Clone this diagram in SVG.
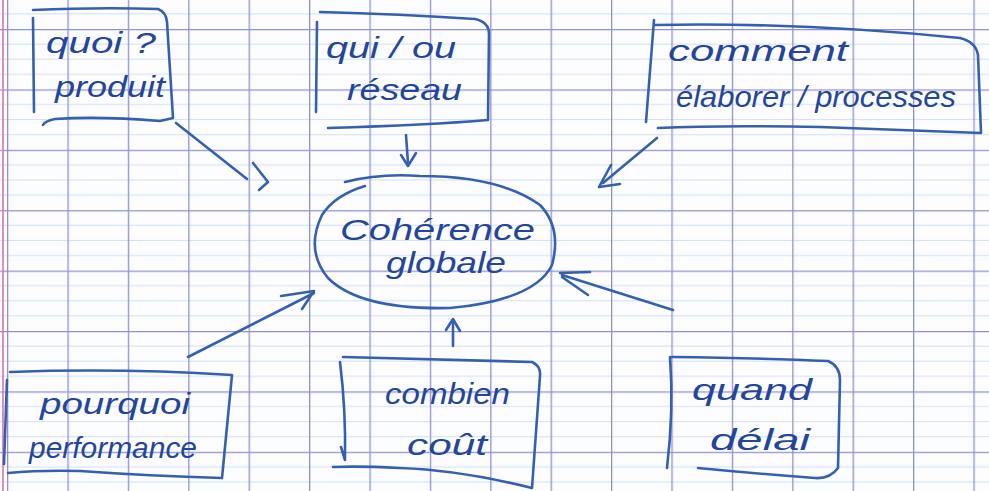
<svg xmlns="http://www.w3.org/2000/svg" width="989" height="491" viewBox="0 0 989 491">
<defs>
<pattern id="grid" patternUnits="userSpaceOnUse" x="7" y="29" width="60.4" height="60.4">
<rect width="60.4" height="60.4" fill="#fdfdff"/>
<line x1="0" y1="15.1" x2="60.4" y2="15.1" stroke="#cfe0f2" stroke-width="1.2"/>
<line x1="0" y1="30.2" x2="60.4" y2="30.2" stroke="#cfe0f2" stroke-width="1.2"/>
<line x1="0" y1="45.3" x2="60.4" y2="45.3" stroke="#cfe0f2" stroke-width="1.2"/>
<line x1="0" y1="0.5" x2="60.4" y2="0.5" stroke="#8e92d0" stroke-width="1.6"/>
<line x1="0.5" y1="0" x2="0.5" y2="60.4" stroke="#8e92d0" stroke-width="1.6"/>
</pattern>
<style>
.ink{fill:none;stroke:#3560b0;stroke-width:2.6;stroke-linecap:round;stroke-linejoin:round}
.hw{font-family:"Liberation Sans","DejaVu Sans",sans-serif;font-style:italic;fill:#23469a;font-size:30px}
</style>
</defs>
<rect width="989" height="491" fill="url(#grid)"/>
<line x1="3" y1="0" x2="3" y2="491" stroke="#e070a8" stroke-width="1.6"/>

<g id="connectors">
<path class="ink" d="M176,123 L247,179"/>
<path class="ink" d="M253,163 L268,182 L259,190"/>
<path class="ink" d="M406,135 L408,163"/>
<path class="ink" d="M401,155 L408,166 L416,153"/>
<path class="ink" d="M657,138 L603,183"/>
<path class="ink" d="M611,165 L599,187 L620,184"/>
<path class="ink" d="M188,357 L314,293"/>
<path class="ink" d="M281,296 L314,291 L302,309"/>
<path class="ink" d="M453,346 L453,320"/>
<path class="ink" d="M446,330 L453,319 L460,331"/>
<path class="ink" d="M673,310 L562,275"/>
<path class="ink" d="M560,273 L590,272 M562,277 L588,295"/>
</g>

<g id="node-quoi">
<path class="ink" d="M33,10 Q100,7 158,9 Q166,12 167,22 L173,118 L160,121 Q100,116 55,119 Q45,121 43,125"/>
<path class="ink" d="M33,18 L34,112"/>
<text class="hw" x="46" y="53" textLength="110" lengthAdjust="spacingAndGlyphs">quoi ?</text>
<text class="hw" x="55" y="97" textLength="110" lengthAdjust="spacingAndGlyphs">produit</text>
</g>

<g id="node-qui">
<path class="ink" d="M320,12 Q400,14 475,19 Q489,22 489,34 L488,120 Q430,125 328,128"/>
<path class="ink" d="M317,22 L316,112"/>
<text class="hw" x="326" y="58" textLength="130" lengthAdjust="spacingAndGlyphs">qui / ou</text>
<text class="hw" x="347" y="100" textLength="115" lengthAdjust="spacingAndGlyphs">réseau</text>
</g>

<g id="node-comment">
<path class="ink" d="M655,25 Q800,22 960,38 Q976,42 978,55 L981,133 Q900,130 820,127 Q720,125 658,128"/>
<path class="ink" d="M654,20 L646,122"/>
<text class="hw" x="668" y="61" textLength="180" lengthAdjust="spacingAndGlyphs">comment</text>
<text class="hw" x="676" y="107" textLength="280" lengthAdjust="spacingAndGlyphs">élaborer / processes</text>
</g>

<g id="node-coherence">
<path class="ink" d="M345,182 Q380,173 420,176 Q500,176 540,205 Q562,228 552,265 Q535,300 450,308 Q360,310 328,278 Q305,250 322,215 Q335,195 365,186"/>
<text class="hw" x="340" y="240" textLength="195" font-size="34" lengthAdjust="spacingAndGlyphs">Cohérence</text>
<text class="hw" x="386" y="273" textLength="120" font-size="32" lengthAdjust="spacingAndGlyphs">globale</text>
</g>

<g id="node-pourquoi">
<path class="ink" d="M10,372 Q120,368 232,375 L222,478 Q150,476 80,471 Q40,470 8,473"/>
<path class="ink" d="M7,380 L4,464"/>
<text class="hw" x="40" y="414" textLength="150" lengthAdjust="spacingAndGlyphs">pourquoi</text>
<text class="hw" x="29" y="458" textLength="168" lengthAdjust="spacingAndGlyphs">performance</text>
</g>

<g id="node-combien">
<path class="ink" d="M343,357 Q450,360 532,362 Q541,366 540,376 L532,488 Q460,470 400,468 Q360,466 333,467"/>
<path class="ink" d="M340,362 Q346,410 345,460 M341,447 L345,460"/>
<text class="hw" x="385" y="404" textLength="125" lengthAdjust="spacingAndGlyphs">combien</text>
<text class="hw" x="407" y="455" textLength="80" lengthAdjust="spacingAndGlyphs">coût</text>
</g>

<g id="node-quand">
<path class="ink" d="M672,357 Q760,358 828,361 Q840,366 840,380 L838,468 Q830,479 815,478 Q760,474 698,468"/>
<path class="ink" d="M670,357 Q674,410 667,468"/>
<text class="hw" x="692" y="400" textLength="120" lengthAdjust="spacingAndGlyphs">quand</text>
<text class="hw" x="710" y="450" textLength="100" lengthAdjust="spacingAndGlyphs">délai</text>
</g>
</svg>
